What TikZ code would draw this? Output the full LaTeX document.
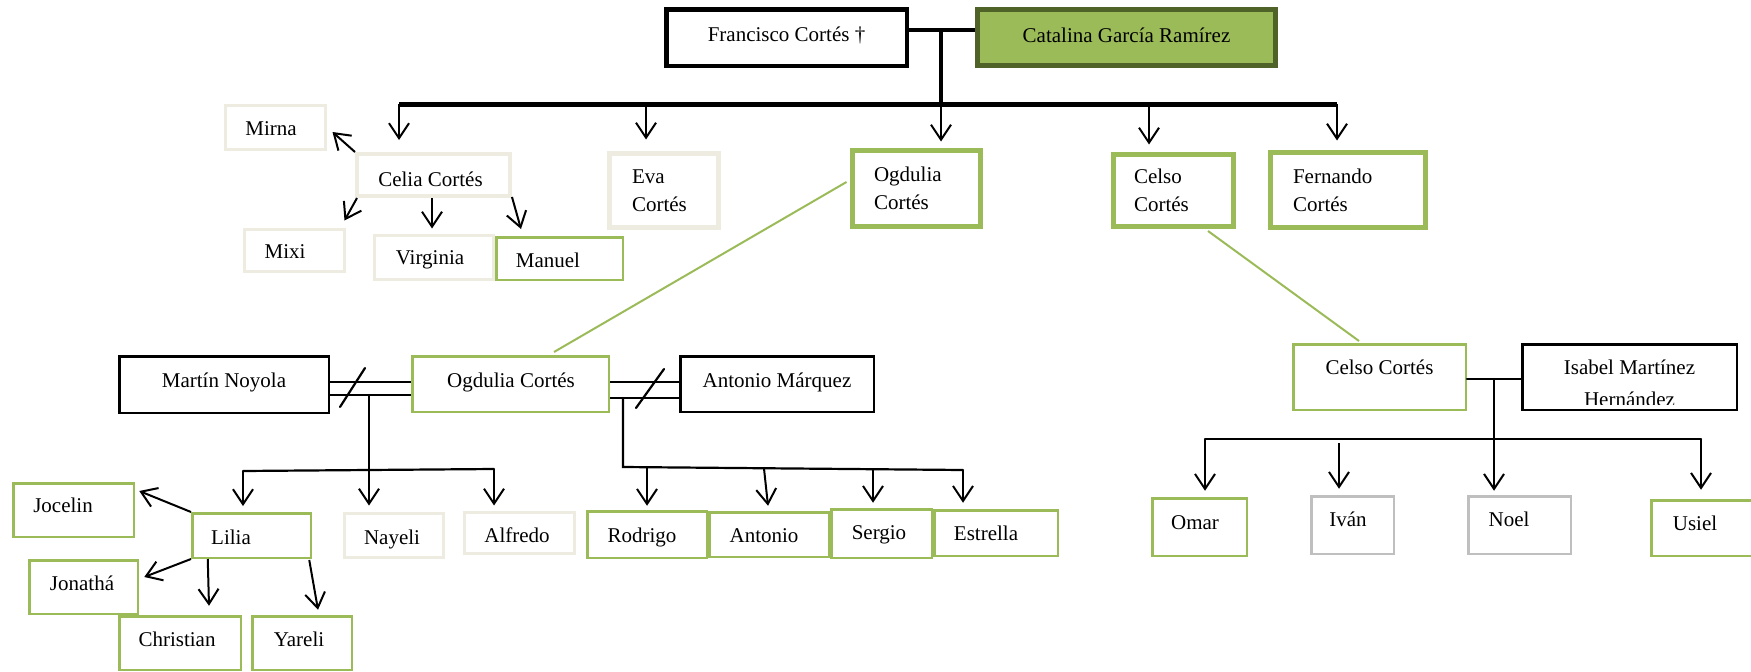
\documentclass[tikz,border=0pt]{standalone}
\usepackage{fontspec}
\setmainfont{Liberation Serif}
\usetikzlibrary{arrows.meta}
\definecolor{ogreen}{HTML}{9BBB59}
\definecolor{odark}{HTML}{4F6228}
\definecolor{obeige}{HTML}{EEECE1}
\definecolor{ogray}{HTML}{BFBFBF}
\newcommand\toff[3]{\raisebox{#2pt}{\hspace*{#1pt}#3\hspace*{-#1pt}}}
\begin{document}
\begin{tikzpicture}[x=1pt,y=-1pt,
  base/.style={rectangle, inner sep=0pt, font=\fontsize{21}{28}\selectfont},
  sl/.style={text height=14pt, text depth=0pt},
  sz/.style 2 args={minimum width=#1pt, minimum height=#2pt},
  blackbox/.style={base, sl, draw=black, line width=2.5pt},
  greenbox/.style={base, sl, draw=ogreen, line width=2.5pt},
  beigebox/.style={base, sl, draw=obeige, line width=3pt},
  graybox/.style={base, sl, draw=ogray, line width=2.5pt},
  twoline/.style={base, line width=5pt, align=left, text width=#1pt},
  topline/.style={draw=black, line width=4.5pt},
  conn/.style={draw=black, line width=2.2pt, line cap=round},
  glink/.style={draw=ogreen, line width=2pt},
  arr/.style={draw=black, line width=2pt, -{Straight Barb[length=15pt,width=20pt]}}
]
\useasboundingbox (0,0) rectangle (1751,672);

% ---------- generation 0 ----------
\node[blackbox, line width=4.5pt, sz={240.5}{56.5}] (fran) at (786.5,37.5) {\toff{0}{3}{Francisco Cortés †}};
\node[base, sl, draw=odark, fill=ogreen, line width=5pt, sz={298}{56}] (cata) at (1126.5,37.5) {\toff{0}{2.5}{Catalina García Ramírez}};

% ---------- generation 1 ----------
\node[beigebox, line width=4pt, sz={153}{42}] (celia) at (433.5,175) {\toff{-3}{-4}{Celia Cortés}};
\node[twoline=64, draw=obeige, sz={109}{74}] (eva) at (664,190.5) {Eva\\Cortés};
\node[twoline=85, draw=ogreen, sz={128}{76}] (ogd1) at (916.5,188.5) {Ogdulia\\Cortés};
\node[twoline=79, draw=ogreen, sz={120}{72}] (cel1) at (1173.5,190.5) {Celso\\Cortés};
\node[twoline=110, draw=ogreen, sz={155}{75}] (fer) at (1348,190) {Fernando\\Cortés};

% Celia's children
\node[beigebox, sz={100}{44}] (mirna) at (275.5,127.5) {\toff{-4.5}{-0.5}{Mirna}};
\node[beigebox, sz={100}{42}] (mixi) at (294.5,250.5) {\toff{-9.5}{-1}{Mixi}};
\node[beigebox, sz={119}{44}] (virginia) at (434,257.5) {\toff{-4}{0}{Virginia}};
\node[greenbox, sz={126.5}{42.5}] (manuel) at (559.5,258.5) {\toff{-11.5}{-1.5}{Manuel}};

% ---------- generation 2 ----------
\node[blackbox, sz={209.5}{56.5}] (martin) at (224,384.5) {\toff{0}{4.5}{Martín Noyola}};
\node[greenbox, sz={196.5}{55.5}] (ogd2) at (510.5,384) {\toff{0.5}{4}{Ogdulia Cortés}};
\node[blackbox, sz={193.5}{55.5}] (antonio) at (777,384) {\toff{0}{4}{Antonio Márquez}};

\node[greenbox, sz={172.5}{65.5}] (cel2) at (1379.5,377) {\toff{0}{10}{Celso Cortés}};
\node[blackbox, sz={214.5}{65.5}] (isabel) at (1629.5,377) {};
\begin{scope}
  \clip (1523,345) rectangle (1736,404);
  \node[base, align=center, font=\fontsize{21}{31.5}\selectfont, anchor=north] (isabel-t) at (1629.5,359.7) {Isabel Martínez\\Hernández};
\end{scope}

% ---------- generation 3 ----------
\node[greenbox, sz={120.5}{53.5}] (jocelin) at (73.5,510) {\toff{-10.5}{5}{Jocelin}};
\node[greenbox, sz={118.5}{44.5}] (lilia) at (251.5,535.5) {\toff{-20.5}{-1.5}{Lilia}};
\node[greenbox, sz={108.5}{53.5}] (jonatha) at (83.5,587) {\toff{-1.5}{3.5}{Jonathá}};
\node[greenbox, sz={121.5}{53.5}] (christian) at (180,643) {\toff{-3}{4}{Christian}};
\node[greenbox, sz={99.5}{53.5}] (yareli) at (302,643) {\toff{-3}{4}{Yareli}};
\node[beigebox, sz={99}{44}] (nayeli) at (394,535.5) {\toff{-2}{-1.5}{Nayeli}};
\node[beigebox, sz={110}{41}] (alfredo) at (519.5,533) {\toff{-2.5}{-2.5}{Alfredo}};
\node[greenbox, sz={119.5}{46.5}] (rodrigo) at (647,534.5) {\toff{-5}{-1}{Rodrigo}};
\node[greenbox, sz={119.5}{44.5}] (antonio2) at (769,534.5) {\toff{-5}{-1}{Antonio}};
\node[greenbox, sz={100.5}{48.5}] (sergio) at (881.5,533.5) {\toff{-2.5}{1}{Sergio}};
\node[greenbox, sz={123.5}{45.5}] (estrella) at (996,533) {\toff{-10}{0}{Estrella}};

\node[greenbox, sz={94.5}{57.5}] (omar) at (1199.5,527) {\toff{-4.5}{5}{Omar}};
\node[graybox, sz={82.5}{57.5}] (ivan) at (1352.5,525) {\toff{-4.5}{5.5}{Iván}};
\node[graybox, sz={102.5}{57.5}] (noel) at (1519.5,525) {\toff{-10.5}{5.5}{Noel}};
\node[greenbox, sz={107.5}{55.5}] (usiel) at (1705,528) {\toff{-10}{4.3}{Usiel}};

% ---------- top connectors ----------
\coordinate (mc) at (941,30);
\coordinate (mb) at (941,104);
\coordinate (bl) at (399,104);
\coordinate (b2) at (646,104);
\coordinate (b4) at (1149,104);
\coordinate (br) at (1337,104);
\draw[topline] (fran.east |- mc) -- (cata.west |- mc);
\draw[topline] (mc) -- (mb);
\draw[topline, line width=5pt] (bl) -- (br);
\draw[arr, shorten >=12pt] (bl) -- (bl |- celia.north);
\draw[arr, shorten >=11.5pt] (b2) -- (b2 |- eva.north);
\draw[arr, shorten >=6.5pt] (mb) -- (mb |- ogd1.north);
\draw[arr, shorten >=7.5pt] (b4) -- (b4 |- cel1.north);
\draw[arr, shorten >=9.5pt] (br) -- (br |- fer.north);

% Celia's arrows
\draw[arr] (celia.north west) -- ([shift={(5.5,4.5)}]mirna.east);
\draw[arr] ([shift={(2,0)}]celia.south west) -- ([shift={(-1.5,-7.5)}]mixi.north east);
\draw[arr] ([shift={(-1.5,0)}]celia.south) -- ([shift={(-2,-5.5)}]virginia.north);
\draw[arr] ([shift={(0,-1)}]celia.south east) -- ([shift={(-38.5,-7)}]manuel.north);

% green links
\draw[glink] ([shift={(-3.5,-6.5)}]ogd1.west) -- ([shift={(43.5,-3)}]ogd2.north);
\draw[glink] ([shift={(34.5,2)}]cel1.south) -- ([shift={(-20.5,-2)}]cel2.north);

% ---------- Ogdulia's marriages ----------
\coordinate (dl1) at (0,382);
\coordinate (dl2) at (0,395);
\coordinate (dr2) at (0,398);
\draw[conn, line cap=butt] (martin.east |- dl1) -- (ogd2.west |- dl1);
\draw[conn, line cap=butt] (martin.east |- dl2) -- (ogd2.west |- dl2);
\draw[conn, line cap=butt] (ogd2.east |- dl1) -- (antonio.west |- dl1);
\draw[conn, line cap=butt] (ogd2.east |- dr2) -- (antonio.west |- dr2);
\coordinate (s1a) at (340,407);
\coordinate (s1b) at (365,368);
\coordinate (s2a) at (636,408);
\coordinate (s2b) at (664,369);
\draw[conn] (s1a) -- (s1b);
\draw[conn] (s2a) -- (s2b);

% children with Martín
\coordinate (lv) at (369,395);
\coordinate (lvb) at (369,470);
\coordinate (lbl) at (243,471);
\coordinate (lbr) at (494,469);
\draw[conn] (lv) -- (lvb);
\draw[conn] (lbl) -- (lbr);
\draw[arr, shorten >=6pt] (lbl) -- (lbl |- lilia.north);
\draw[arr, shorten >=6.5pt] (lvb) -- (lvb |- nayeli.north);
\draw[arr, shorten >=5.5pt] (lbr) -- (lbr |- alfredo.north);

% children with Antonio
\coordinate (rv) at (623,398);
\coordinate (rvb) at (623,467);
\coordinate (rbr) at (963,470);
\coordinate (rb1) at (647,467.3);
\coordinate (rb2) at (764,468.5);
\coordinate (rb3) at (873,469.4);
\draw[conn] (rv) -- (rvb) -- (rbr);
\draw[arr, shorten >=4.25pt] (rb1) -- (rb1 |- rodrigo.north);
\draw[arr] (rb2) -- ([shift={(-1,-5.25)}]antonio2.north);
\draw[arr, shorten >=5.25pt] (rb3) -- (rb3 |- sergio.north);
\draw[arr, shorten >=6.25pt] (rbr) -- (rbr |- estrella.north);

% Lilia's arrows
\draw[arr] (lilia.north west) -- ([shift={(4.25,-19)}]jocelin.east);
\draw[arr] (lilia.south west) -- ([shift={(5.25,-10)}]jonatha.east);
\draw[arr] ([shift={(16.75,0)}]lilia.south west) -- ([shift={(29,-9.25)}]christian.north);
\draw[arr] ([shift={(-2.75,1)}]lilia.south east) -- ([shift={(16,-5.25)}]yareli.north);

% ---------- Celso's family ----------
\coordinate (rm) at (1494,379);
\coordinate (rmb) at (1494,439);
\coordinate (fbl) at (1205,439);
\coordinate (fbr) at (1701,439);
\coordinate (fi) at (1339,443);
\draw[conn] (cel2.east |- rm) -- (isabel.west |- rm);
\draw[conn] (rm) -- (rmb);
\draw[conn] (fbl) -- (fbr);
\draw[arr, shorten >=6.25pt] (fbl) -- (fbl |- omar.north);
\draw[arr, shorten >=6.25pt] (fi) -- (fi |- ivan.north);
\draw[arr, shorten >=4.25pt] (rmb) -- (rmb |- noel.north);
\draw[arr, shorten >=9.25pt] (fbr) -- (fbr |- usiel.north);
\end{tikzpicture}
\end{document}
